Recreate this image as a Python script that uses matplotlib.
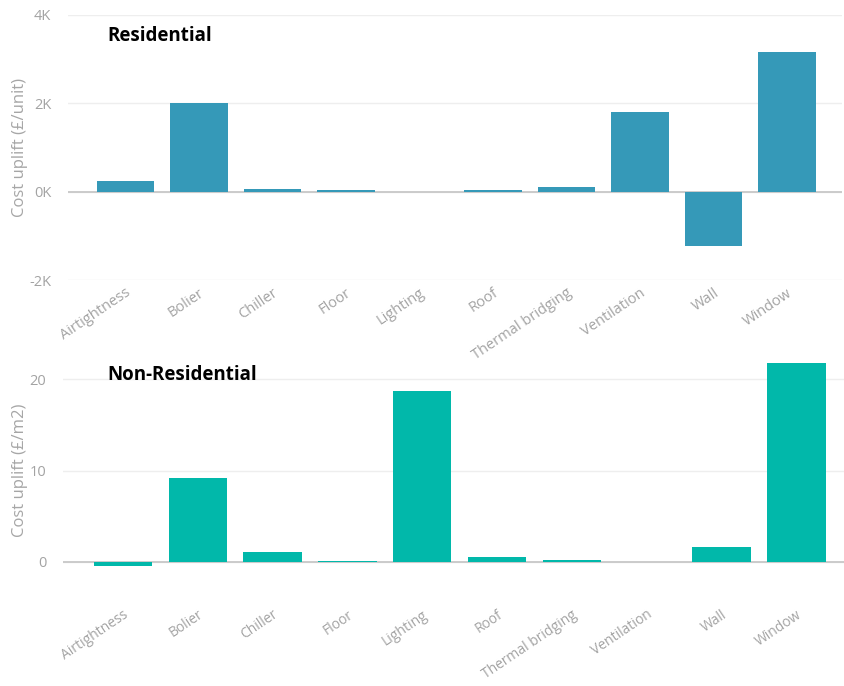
import matplotlib
matplotlib.use('Agg')
import matplotlib.pyplot as plt
from matplotlib.ticker import FuncFormatter

plt.rcParams['font.family'] = ['Open Sans', 'DejaVu Sans']

categories = ['Airtightness', 'Bolier', 'Chiller', 'Floor', 'Lighting', 'Roof',
              'Thermal bridging', 'Ventilation', 'Wall', 'Window']
residential = [250, 2000, 70, 30, 0, 30, 110, 1800, -1240, 3170]
non_residential = [-0.45, 9.2, 1.1, 0.15, 18.7, 0.5, 0.2, 0, 1.65, 21.8]

W, H = 845, 686
fig = plt.figure(figsize=(W / 100, H / 100), dpi=100)

def box(l, t, r, b):
    return [l / W, 1 - b / H, (r - l) / W, (b - t) / H]

def style(ax, color, vals, ylabel, lab_x, lab_y, xfs):
    x = range(len(categories))
    ax.bar(x, vals, width=0.78, color=color, zorder=3)
    for s in ax.spines.values():
        s.set_visible(False)
    ax.grid(axis='y', color='#eeeeee', linewidth=1, zorder=0)
    ax.axhline(0, color='#c8c8c8', linewidth=1.3, zorder=2)
    ax.set_xticks(list(x))
    ax.set_xticklabels(categories, rotation=34, ha='right', rotation_mode='anchor',
                       fontsize=xfs, color='#a3a3a3')
    ax.tick_params(axis='both', length=0)
    ax.tick_params(axis='x', pad=4)
    ax.tick_params(axis='y', labelsize=10.5, labelcolor='#a3a3a3', pad=12)
    ax.set_ylabel(ylabel, fontsize=12, color='#a6a6a6')
    ax.yaxis.set_label_coords(lab_x, lab_y)

ax1 = fig.add_axes(box(68, 15, 842, 280))
style(ax1, '#3599B8', residential, 'Cost uplift (£/unit)', -0.052, 0.5, 10.5)
ax1.set_ylim(-2000, 4000)
ax1.set_yticks([-2000, 0, 2000, 4000])
ax1.yaxis.set_major_formatter(FuncFormatter(lambda v, p: f'{int(v / 1000)}K'))
ax1.set_xlim(-0.78, 9.75)

ax2 = fig.add_axes(box(63, 361, 845, 603))
style(ax2, '#01B8AA', non_residential, 'Cost uplift (£/m2)', -0.045, 0.55, 10)
ax2.set_ylim(-4.5, 22)
ax2.set_yticks([0, 10, 20])
ax2.set_xlim(-0.8, 9.65)
ax2.tick_params(axis='x', pad=3)

fig.text(107 / W, 1 - 36 / H, 'Residential', fontsize=13.5, fontweight='bold',
         color='black', va='center', ha='left')
fig.text(107 / W, 1 - 375 / H, 'Non-Residential', fontsize=13.5, fontweight='bold',
         color='black', va='center', ha='left')

fig.savefig('out.png', dpi=100)
